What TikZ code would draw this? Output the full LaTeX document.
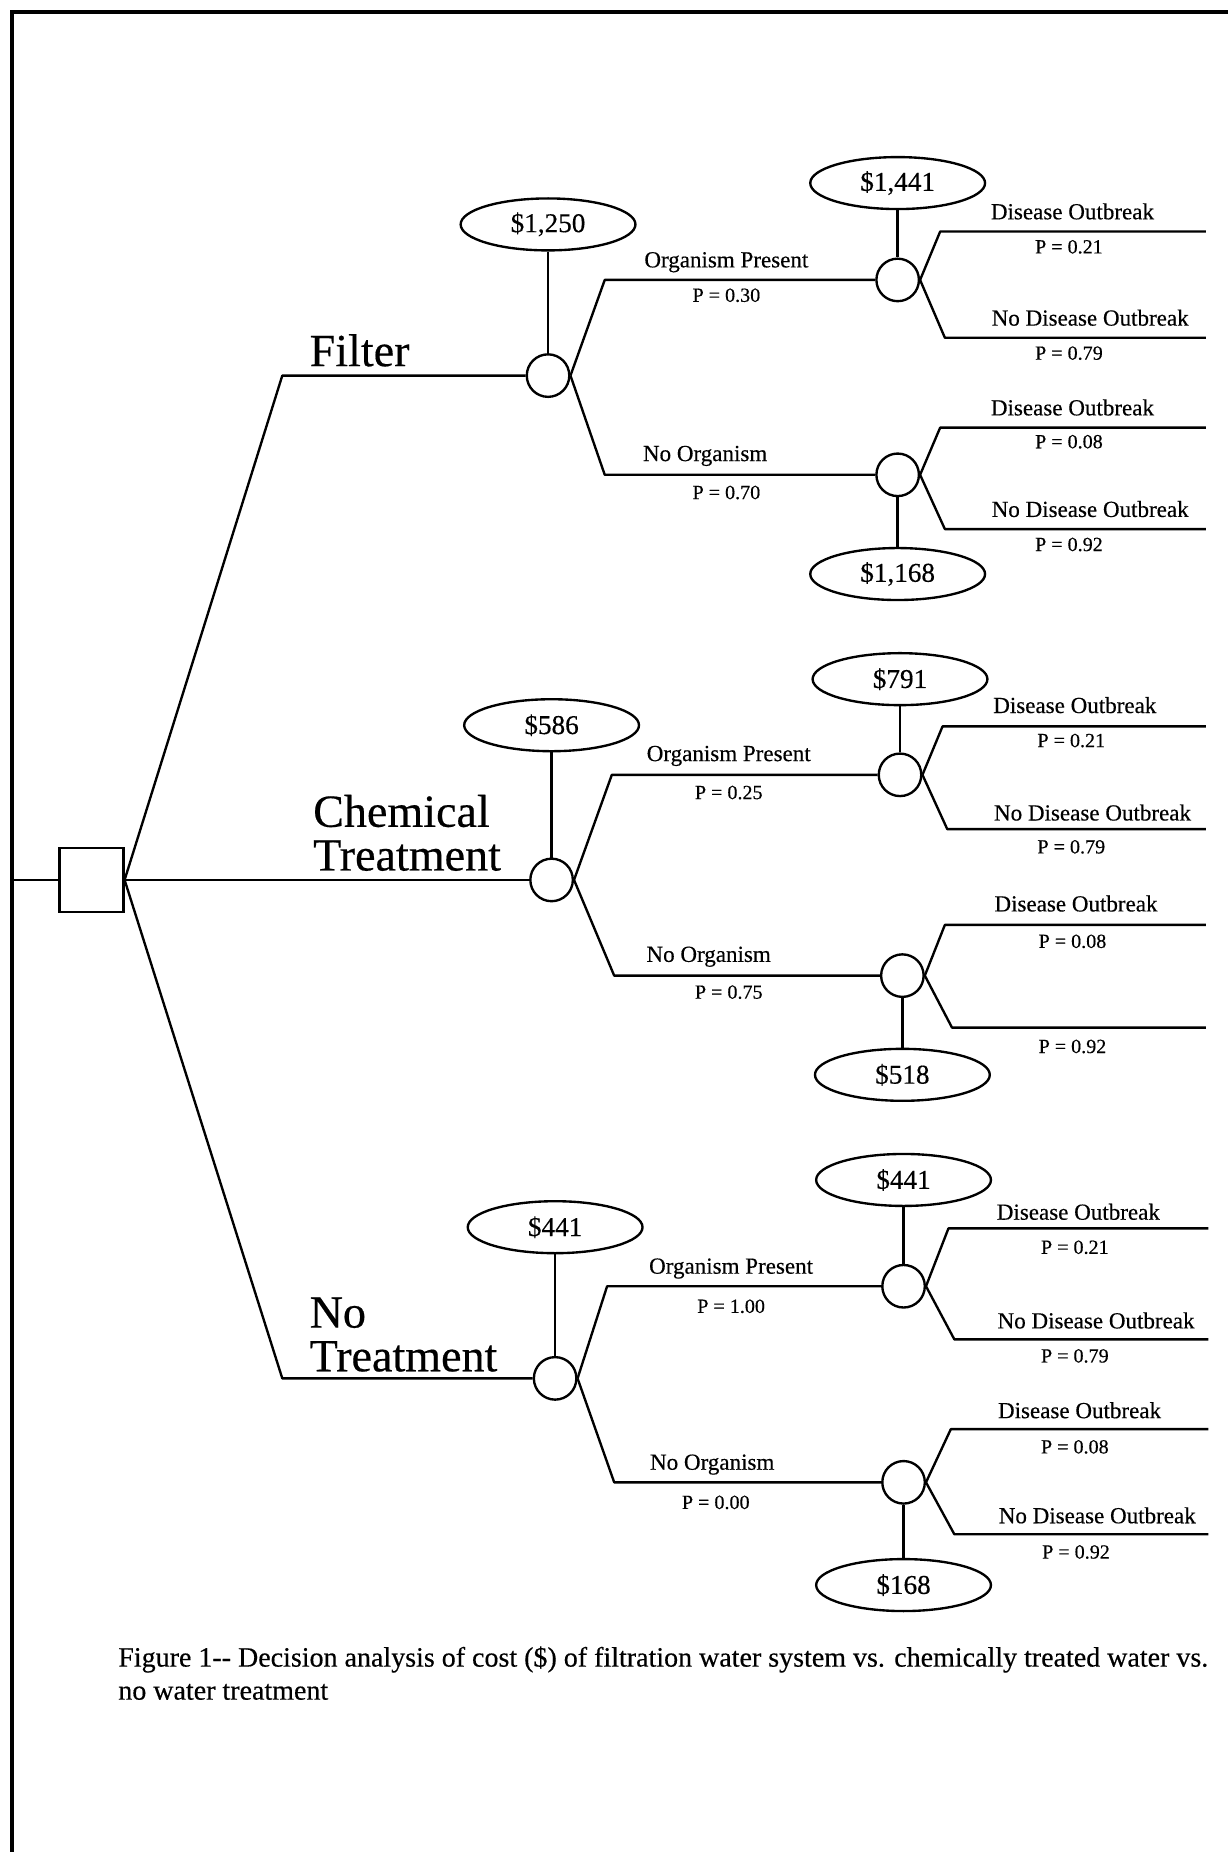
\documentclass[tikz,border=0pt]{standalone}
\usepackage{fontspec}
\setmainfont{Liberation Serif}[FakeBold=0.4]
\usetikzlibrary{shapes.geometric}
\begin{document}
\begin{tikzpicture}[x=1pt,y=-1pt,
  ln/.style={line width=2pt, line join=round},
  border/.style={line width=3.8pt},
  chance/.style={circle,draw,line width=2pt,minimum size=36pt,inner sep=0pt},
  decision/.style={rectangle,draw,line width=2pt,minimum size=54pt,inner sep=0pt},
  val/.style={ellipse,draw,line width=2pt,minimum width=148pt,minimum height=44pt,inner sep=0pt,font=\fontsize{23}{25}\selectfont},
  lab/.style={font=\fontsize{19.5}{22}\selectfont,inner sep=0pt},
  prob/.style={font=\fontsize{17}{20}\selectfont,inner sep=0pt},
  big/.style={font=\fontsize{39}{37}\selectfont,inner sep=0pt,align=left,anchor=base west},
  captxt/.style={font=\fontsize{23.7}{28}\selectfont,inner sep=0pt,align=left,anchor=base west}]
\useasboundingbox (0,0) rectangle (1040,1568);
% border
\coordinate (bl) at (10,1568);
\coordinate (tl) at (10,10);
\coordinate (tr) at (1040,10);
\coordinate (stub) at (10,745);
\draw[border] (bl) -- (tl) -- (tr);

% decision node
\node[decision] (sq) at (77.5,745) {};
\draw[ln] (stub) -- (sq.west);

% first-level chance nodes
\node[chance] (F) at (464,318) {};
\node[chance] (C) at (467,745) {};
\node[chance] (N) at (470,1167) {};
\coordinate (fb) at (239,318);
\coordinate (nb) at (239,1167);
\draw[ln] (sq.east) -- (fb) -- (F.west);
\draw[ln] (sq.east) -- (C.west);
\draw[ln] (sq.east) -- (nb) -- (N.west);

\node[big] (tF) at (262,310) {Filter};
\node[big] (tC) at (265,737) {Chemical\\Treatment};
\node[big] (tN) at (262,1161) {No\\Treatment};

% first-level values
\node[val] (vF) at (464,190) {\$1,250};
\node[val] (vC) at (467,614) {\$586};
\node[val] (vN) at (470,1039) {\$441};
\draw[ln] (vF.south) -- (F.north);
\draw[ln] (vC.south) -- (C.north);
\draw[ln] (vN.south) -- (N.north);

% second-level chance nodes
\node[chance] (F1) at (760,237) {};
\node[chance] (F2) at (760,402) {};
\node[chance] (C1) at (762,656) {};
\node[chance] (C2) at (764,826) {};
\node[chance] (N1) at (765,1089) {};
\node[chance] (N2) at (765,1255) {};
\coordinate (F1b) at (512,237);
\coordinate (F2b) at (512,402);
\coordinate (C1b) at (518,656);
\coordinate (C2b) at (520,826);
\coordinate (N1b) at (514,1089);
\coordinate (N2b) at (520,1255);
\draw[ln] (F.east) -- (F1b) -- (F1.west);
\draw[ln] (F.east) -- (F2b) -- (F2.west);
\draw[ln] (C.east) -- (C1b) -- (C1.west);
\draw[ln] (C.east) -- (C2b) -- (C2.west);
\draw[ln] (N.east) -- (N1b) -- (N1.west);
\draw[ln] (N.east) -- (N2b) -- (N2.west);

\node[lab] (lF1) at (615,222) {Organism Present};
\node[prob] (pF1) at (615,250) {P = 0.30};
\node[lab] (lF2) at (597,386) {No Organism};
\node[prob] (pF2) at (615,417) {P = 0.70};
\node[lab] (lC1) at (617,640) {Organism Present};
\node[prob] (pC1) at (617,671) {P = 0.25};
\node[lab] (lC2) at (600,810) {No Organism};
\node[prob] (pC2) at (617,840) {P = 0.75};
\node[lab] (lN1) at (619,1074) {Organism Present};
\node[prob] (pN1) at (619,1106) {P = 1.00};
\node[lab] (lN2) at (603,1240) {No Organism};
\node[prob] (pN2) at (606,1272) {P = 0.00};

% second-level values
\node[val] (vF1) at (760,155) {\$1,441};
\node[val] (vF2) at (760,486) {\$1,168};
\node[val] (vC1) at (762,575) {\$791};
\node[val] (vC2) at (764,910) {\$518};
\node[val] (vN1) at (765,999) {\$441};
\node[val] (vN2) at (765,1342) {\$168};
\draw[ln] (vF1.south) -- (F1.north);
\draw[ln] (F2.south) -- (vF2.north);
\draw[ln] (vC1.south) -- (C1.north);
\draw[ln] (C2.south) -- (vC2.north);
\draw[ln] (vN1.south) -- (N1.north);
\draw[ln] (N2.south) -- (vN2.north);

% outcome branches
\coordinate (F1u) at (796,196); \coordinate (F1ue) at (1021,196);
\coordinate (F1d) at (800,286); \coordinate (F1de) at (1021,286);
\coordinate (F2u) at (796,362); \coordinate (F2ue) at (1021,362);
\coordinate (F2d) at (800,448); \coordinate (F2de) at (1021,448);
\coordinate (C1u) at (798,615); \coordinate (C1ue) at (1021,615);
\coordinate (C1d) at (802,702); \coordinate (C1de) at (1021,702);
\coordinate (C2u) at (800,783); \coordinate (C2ue) at (1021,783);
\coordinate (C2d) at (806,870); \coordinate (C2de) at (1021,870);
\coordinate (N1u) at (803,1040); \coordinate (N1ue) at (1023,1040);
\coordinate (N1d) at (808,1134); \coordinate (N1de) at (1023,1134);
\coordinate (N2u) at (805,1210); \coordinate (N2ue) at (1023,1210);
\coordinate (N2d) at (808,1299); \coordinate (N2de) at (1023,1299);
\draw[ln] (F1.east) -- (F1u) -- (F1ue);
\draw[ln] (F1.east) -- (F1d) -- (F1de);
\draw[ln] (F2.east) -- (F2u) -- (F2ue);
\draw[ln] (F2.east) -- (F2d) -- (F2de);
\draw[ln] (C1.east) -- (C1u) -- (C1ue);
\draw[ln] (C1.east) -- (C1d) -- (C1de);
\draw[ln] (C2.east) -- (C2u) -- (C2ue);
\draw[ln] (C2.east) -- (C2d) -- (C2de);
\draw[ln] (N1.east) -- (N1u) -- (N1ue);
\draw[ln] (N1.east) -- (N1d) -- (N1de);
\draw[ln] (N2.east) -- (N2u) -- (N2ue);
\draw[ln] (N2.east) -- (N2d) -- (N2de);

% outcome labels
\node[lab] (oF1a) at (908,179) {Disease Outbreak};
\node[prob] (qF1a) at (905,209) {P = 0.21};
\node[lab] (oF1b) at (923,269) {No Disease Outbreak};
\node[prob] (qF1b) at (905,299) {P = 0.79};
\node[lab] (oF2a) at (908,345) {Disease Outbreak};
\node[prob] (qF2a) at (905,374) {P = 0.08};
\node[lab] (oF2b) at (923,431) {No Disease Outbreak};
\node[prob] (qF2b) at (905,461) {P = 0.92};
\node[lab] (oC1a) at (910,597) {Disease Outbreak};
\node[prob] (qC1a) at (907,627) {P = 0.21};
\node[lab] (oC1b) at (925,688) {No Disease Outbreak};
\node[prob] (qC1b) at (907,717) {P = 0.79};
\node[lab] (oC2a) at (911,765) {Disease Outbreak};
\node[prob] (qC2a) at (908,797) {P = 0.08};
\node[prob] (qC2b) at (908,886) {P = 0.92};
\node[lab] (oN1a) at (913,1026) {Disease Outbreak};
\node[prob] (qN1a) at (910,1056) {P = 0.21};
\node[lab] (oN1b) at (928,1118) {No Disease Outbreak};
\node[prob] (qN1b) at (910,1148) {P = 0.79};
\node[lab] (oN2a) at (914,1194) {Disease Outbreak};
\node[prob] (qN2a) at (910,1225) {P = 0.08};
\node[lab] (oN2b) at (929,1283) {No Disease Outbreak};
\node[prob] (qN2b) at (911,1314) {P = 0.92};

% caption
\node[captxt] (caption) at (100,1439) {Figure 1-{}- Decision analysis of cost (\$) of filtration water system vs. chemically treated water vs.\\no water treatment};
\end{tikzpicture}
\end{document}
